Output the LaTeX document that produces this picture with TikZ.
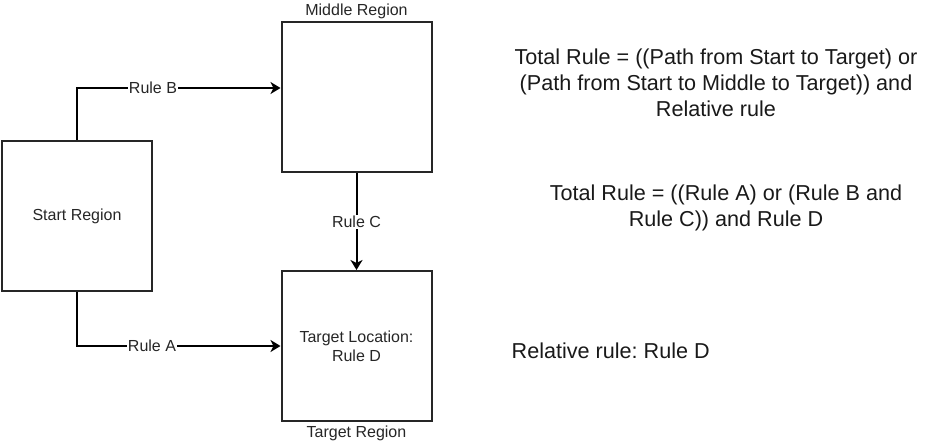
\documentclass[tikz,border=0pt]{standalone}
\usepackage{fontspec}
\setmainfont{Liberation Sans}
\usetikzlibrary{arrows.meta}
\frenchspacing
\begin{document}
\begin{tikzpicture}[x=1pt,y=-1pt,
  region/.style={draw=black!85,line width=2pt,minimum width=150pt,minimum height=150pt,inner sep=0pt,align=center,font=\fontsize{16}{19.2}\selectfont,text=black!85},
  regcaption/.style={font=\fontsize{16}{19.2}\selectfont,text=black!85,inner sep=0pt},
  lbl/.style={fill=white,font=\fontsize{16}{19.2}\selectfont,text=black!85,inner sep=1pt},
  big/.style={font=\fontsize{21.6}{26}\selectfont,text=black!90,align=center,inner sep=0pt},
  conn/.style={line width=2pt,black,-{Stealth[length=10pt,width=12pt,inset=3pt]}}]
\useasboundingbox (0,0) rectangle (942,442);
\node[region] (start) at (77,216) {Start Region};
\node[region] (middle) at (356.5,96.5) {};
\node[region] (target) at (356.5,346) {Target Location:\\Rule D};
\node[regcaption,anchor=base] (mcap) at (356.5,15.5) {Middle Region};
\node[regcaption,anchor=base] (tcap) at (356.5,437.5) {Target Region};
\coordinate (bend1) at (77,88);
\coordinate (bend2) at (start.south |- target.west);
\draw[conn] (start.north) -- (bend1) -- (middle.west |- bend1);
\draw[conn] (start.south) -- (bend2) -- (target.west);
\draw[conn] (middle.south) -- (target.north);
\node[lbl] (rb) at (153,88) {Rule B};
\node[lbl] (ra) at (152,346) {Rule A};
\node[lbl] (rc) at (356.5,222) {Rule C};
\node[big] (t1) at (716,83) {Total Rule = ((Path from Start to Target) or\\(Path from Start to Middle to Target)) and\\Relative rule};
\node[big] (t2) at (726,207.5) {Total Rule = ((Rule A) or (Rule B and\\Rule C)) and Rule D};
\node[big,anchor=base west] (t3) at (511.5,358) {Relative rule: Rule D};
\end{tikzpicture}
\end{document}
